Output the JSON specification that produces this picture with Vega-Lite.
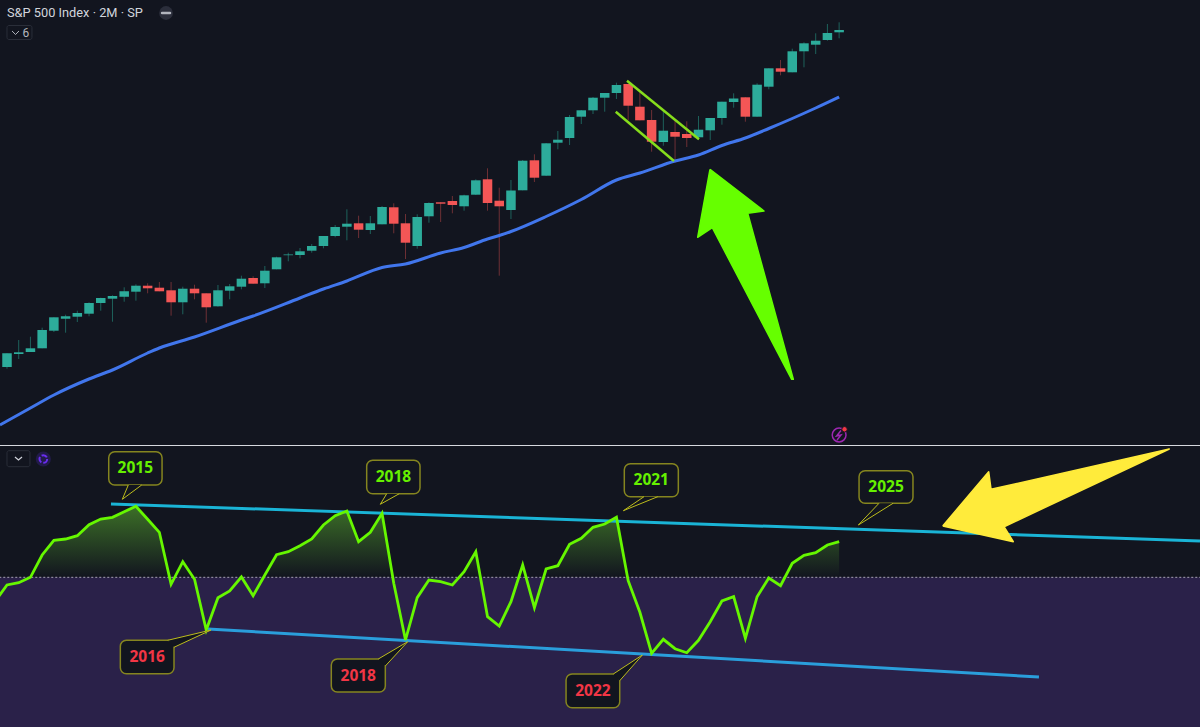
{
"$schema":"https://vega.github.io/schema/vega-lite/v6.json",
"background":"#12151f",
"padding":0,
"spacing":0,
"bounds":"flush",
"config":{"view":{"stroke":null},"concat":{"spacing":0}},
"datasets":{
"candles":[
{"t":0,"open":78,"high":91.7,"low":76.3,"close":91.7},
{"t":1,"open":91,"high":105,"low":86,"close":92.7},
{"t":2,"open":93,"high":108.3,"low":93,"close":96.7},
{"t":3,"open":96.7,"high":117.3,"low":96.7,"close":115},
{"t":4,"open":114.3,"high":127.7,"low":113,"close":127.7},
{"t":5,"open":126.3,"high":130.3,"low":112.3,"close":128.7},
{"t":6,"open":128.3,"high":134.3,"low":123,"close":132},
{"t":7,"open":131.3,"high":142.7,"low":128.7,"close":142},
{"t":8,"open":142,"high":147.3,"low":134.3,"close":147},
{"t":9,"open":146.3,"high":149.7,"low":123.3,"close":149},
{"t":10,"open":148.3,"high":157.7,"low":143.3,"close":153.7},
{"t":11,"open":153.3,"high":160.7,"low":144.3,"close":159.3},
{"t":12,"open":159.3,"high":161.7,"low":151.7,"close":156.7},
{"t":13,"open":157.3,"high":163,"low":153.7,"close":153.7},
{"t":14,"open":154.7,"high":163,"low":129.3,"close":142.7},
{"t":15,"open":142.7,"high":158.3,"low":130.7,"close":156.3},
{"t":16,"open":156.3,"high":160.3,"low":145.7,"close":151.7},
{"t":17,"open":151.7,"high":151.7,"low":122.3,"close":137.7},
{"t":18,"open":138.7,"high":160,"low":138.3,"close":154.7},
{"t":19,"open":154.3,"high":161,"low":145.7,"close":158.7},
{"t":20,"open":158.3,"high":169.3,"low":155.7,"close":166.3},
{"t":21,"open":167,"high":168.7,"low":161.3,"close":161.3},
{"t":22,"open":161.7,"high":179,"low":157,"close":174.3},
{"t":23,"open":175.7,"high":188.3,"low":175.7,"close":187.7},
{"t":24,"open":189.8,"high":192.3,"low":183.7,"close":190.5},
{"t":25,"open":190,"high":197,"low":186.7,"close":193.7},
{"t":26,"open":194.3,"high":201,"low":192.3,"close":199},
{"t":27,"open":199,"high":209,"low":196.7,"close":209},
{"t":28,"open":209,"high":220,"low":207.7,"close":218},
{"t":29,"open":218.3,"high":235.7,"low":204.7,"close":221.3},
{"t":30,"open":221.7,"high":229.3,"low":207,"close":215.3},
{"t":31,"open":215,"high":229,"low":211,"close":221.7},
{"t":32,"open":220.7,"high":239,"low":220.7,"close":238},
{"t":33,"open":237.7,"high":241.7,"low":211.7,"close":221.3},
{"t":34,"open":221.7,"high":231,"low":186,"close":202.3},
{"t":35,"open":199,"high":230.7,"low":196.3,"close":228},
{"t":36,"open":228.7,"high":242.7,"low":222.3,"close":242},
{"t":37,"open":242.7,"high":242.7,"low":223,"close":241.3},
{"t":38,"open":244,"high":249,"low":231.7,"close":240},
{"t":39,"open":238.7,"high":250.3,"low":234.3,"close":249.7},
{"t":40,"open":250.3,"high":265.7,"low":250,"close":264.7},
{"t":41,"open":265.7,"high":276.7,"low":234.3,"close":242},
{"t":42,"open":244.3,"high":257.3,"low":169.3,"close":238.7},
{"t":43,"open":235,"high":265,"low":226,"close":254.5},
{"t":44,"open":254.7,"high":285,"low":254.7,"close":284.3},
{"t":45,"open":284.7,"high":290.7,"low":263,"close":267.3},
{"t":46,"open":269.3,"high":302,"low":269,"close":301.7},
{"t":47,"open":302.3,"high":314,"low":295.7,"close":305.3},
{"t":48,"open":307,"high":330,"low":300,"close":328},
{"t":49,"open":328.3,"high":335,"low":321,"close":334.7},
{"t":50,"open":334.7,"high":348,"low":331,"close":347.3},
{"t":51,"open":347.3,"high":352,"low":333.3,"close":352},
{"t":52,"open":352,"high":362.3,"low":346,"close":360},
{"t":53,"open":361,"high":361,"low":325,"close":339.3},
{"t":54,"open":338.3,"high":353.3,"low":324.7,"close":324.7},
{"t":55,"open":325,"high":335,"low":293.3,"close":303.3},
{"t":56,"open":303,"high":334.3,"low":299.3,"close":314.3},
{"t":57,"open":313,"high":324,"low":282.3,"close":308.3},
{"t":58,"open":311,"high":323.7,"low":298,"close":307},
{"t":59,"open":307.7,"high":329,"low":305,"close":315.3},
{"t":60,"open":314.7,"high":327,"low":305,"close":327},
{"t":61,"open":327,"high":343.3,"low":320.3,"close":343.3},
{"t":62,"open":343,"high":351.7,"low":337.3,"close":346.5},
{"t":63,"open":347.7,"high":347.7,"low":323.3,"close":328.3},
{"t":64,"open":328.3,"high":361.7,"low":328.3,"close":360.3},
{"t":65,"open":358.3,"high":376.7,"low":355.7,"close":376.7},
{"t":66,"open":376.7,"high":385,"low":369.7,"close":373.3},
{"t":67,"open":372.7,"high":396.3,"low":372.7,"close":393.7},
{"t":68,"open":393.7,"high":402.7,"low":377.7,"close":401.7},
{"t":69,"open":400.3,"high":411.7,"low":391,"close":404.3},
{"t":70,"open":405,"high":421,"low":404.3,"close":412},
{"t":71,"open":412.7,"high":422.7,"low":406.7,"close":415}
],
"ma":[
{"t":-0.6,"v":20},{"t":2,"v":37},{"t":4,"v":50},{"t":7,"v":66},{"t":9,"v":75},{"t":12,"v":92},{"t":13,"v":97},{"t":16,"v":108},{"t":20,"v":125},{"t":21,"v":129},{"t":25,"v":147},{"t":27,"v":156},{"t":29,"v":164},{"t":32,"v":177.5},{"t":34,"v":181},{"t":37,"v":192},{"t":39,"v":197.5},{"t":41,"v":206},{"t":42,"v":209.5},{"t":43,"v":213.5},{"t":46,"v":228.5},{"t":49,"v":245.5},{"t":52,"v":265},{"t":54,"v":272},{"t":57,"v":284},{"t":59,"v":290},{"t":61,"v":299.5},{"t":63,"v":307},{"t":65,"v":316.5},{"t":67,"v":326.5},{"t":69,"v":337},{"t":71,"v":348}
],
"flag":[
{"id":"upper","t":52.9,"v":364.3},{"id":"upper","t":59.04,"v":305.7},
{"id":"lower","t":51.94,"v":333.3},{"id":"lower","t":56.91,"v":284}
],
"greenArrow":[
{"seq":0,"t":59.98,"v":275.7},{"seq":1,"t":64.59,"v":234},{"seq":2,"t":63.2,"v":231.7},{"seq":3,"t":67.09,"v":65.7},{"seq":4,"t":66.95,"v":65.7},{"seq":5,"t":60.18,"v":217.3},{"seq":6,"t":58.93,"v":207.7},{"seq":7,"t":59.98,"v":275.7}
],
"topTitle":[{"t":0,"v":432,"label":"S&P 500 Index · 2M · SP"}],
"topCount":[{"t":1.62,"v":412.5,"label":"6"}],
"topBox":[{"t":0,"t2":2.13,"v":419.5,"v2":405.5}],
"topChevron":[{"seq":0,"t":0.43,"v":414},{"seq":1,"t":0.73,"v":410.5},{"seq":2,"t":1.02,"v":414}],
"minusDot":[{"t":13.57,"v":432}],
"minusBar":[{"t":13.23,"t2":13.91,"v":432}],
"osc":[
{"t":-1,"v":126},{"t":0,"v":142},{"t":1,"v":144.3},{"t":2,"v":149.7},{"t":3,"v":172},{"t":4,"v":186.7},{"t":5,"v":188},{"t":6,"v":191.3},{"t":7,"v":202.3},{"t":8,"v":208},{"t":9,"v":209.7},{"t":10,"v":215.3},{"t":11,"v":220.7},{"t":12,"v":207.7},{"t":13,"v":194.7},{"t":14,"v":142.7},{"t":15,"v":165.3},{"t":16,"v":147.7},{"t":17,"v":97},{"t":18,"v":129.3},{"t":19,"v":136},{"t":20,"v":150},{"t":21,"v":131.3},{"t":22,"v":152},{"t":23,"v":172.3},{"t":24,"v":175.3},{"t":25,"v":181.3},{"t":26,"v":188},{"t":27,"v":202},{"t":28,"v":211.3},{"t":29,"v":216},{"t":30,"v":185.3},{"t":31,"v":194.7},{"t":32,"v":213.7},{"t":33,"v":143.7},{"t":34,"v":87},{"t":35,"v":129.3},{"t":36,"v":147},{"t":37,"v":145.3},{"t":38,"v":142},{"t":39,"v":155.3},{"t":40,"v":175.3},{"t":41,"v":110.3},{"t":42,"v":101},{"t":43,"v":125.3},{"t":44,"v":162},{"t":45,"v":119.3},{"t":46,"v":158},{"t":47,"v":161.3},{"t":48,"v":182.7},{"t":49,"v":188.7},{"t":50,"v":199.7},{"t":51,"v":203},{"t":52,"v":209.7},{"t":53,"v":146.3},{"t":54,"v":114.7},{"t":55,"v":73.7},{"t":56,"v":87.7},{"t":57,"v":78.3},{"t":58,"v":74.3},{"t":59,"v":86.7},{"t":60,"v":105.3},{"t":61,"v":126},{"t":62,"v":130.3},{"t":63,"v":88.7},{"t":64,"v":130.3},{"t":65,"v":149},{"t":66,"v":141.3},{"t":67,"v":163.7},{"t":68,"v":171.7},{"t":69,"v":174.3},{"t":70,"v":182},{"t":71,"v":185.3}
],
"lowerZone":[{"t":-1,"t2":102,"v":149.7,"v2":0}],
"midline":[{"t":-1,"t2":102,"v":149.7}],
"separator":[{"t":-1,"t2":102,"v":281.5}],
"upperTrend":[{"t":8.87,"v":223},{"t":101.79,"v":186}],
"lowerTrend":[{"t":17.15,"v":98},{"t":88.05,"v":50}],
"yellowArrow":[
{"seq":0,"t":79.84,"v":201},{"seq":1,"t":83.76,"v":255.3},{"seq":2,"t":83.96,"v":237.7},{"seq":3,"t":99.17,"v":278},{"seq":4,"t":85.07,"v":200.3},{"seq":5,"t":85.86,"v":185.3},{"seq":6,"t":79.84,"v":201}
],
"boxes":[
{"t":8.68,"t2":13.23,"v":275.3,"v2":242},
{"t":9.67,"t2":14.25,"v":86.7,"v2":53.3},
{"t":30.69,"t2":35.24,"v":266.7,"v2":233.3},
{"t":27.67,"t2":32.28,"v":68,"v2":35},
{"t":52.67,"t2":57.28,"v":263.3,"v2":230.3},
{"t":47.7,"t2":52.28,"v":53,"v2":19.3},
{"t":72.7,"t2":77.3,"v":256.3,"v2":223.7}
],
"tails":[
{"id":"a","seq":0,"t":10.35,"v":242},{"id":"a","seq":1,"t":9.84,"v":227.7},{"id":"a","seq":2,"t":11.49,"v":242},
{"id":"b","seq":0,"t":13.71,"v":86.7},{"id":"b","seq":1,"t":17.41,"v":97},{"id":"b","seq":2,"t":14.25,"v":79.7},
{"id":"c","seq":0,"t":32.4,"v":233.3},{"id":"c","seq":1,"t":31.85,"v":222.7},{"id":"c","seq":2,"t":33.47,"v":233.3},
{"id":"d","seq":0,"t":31.68,"v":68},{"id":"d","seq":1,"t":34.19,"v":85.3},{"id":"d","seq":2,"t":32.28,"v":61},
{"id":"e","seq":0,"t":54.35,"v":230.3},{"id":"e","seq":1,"t":52.59,"v":216.3},{"id":"e","seq":2,"t":55.52,"v":230.3},
{"id":"f","seq":0,"t":51.73,"v":53},{"id":"f","seq":1,"t":54.21,"v":72},{"id":"f","seq":2,"t":52.28,"v":46.3},
{"id":"g","seq":0,"t":74.4,"v":223.7},{"id":"g","seq":1,"t":72.64,"v":202},{"id":"g","seq":2,"t":75.6,"v":223.7}
],
"labels":[
{"t":10.95,"v":258.7,"label":"2015","kind":"high"},
{"t":11.96,"v":70,"label":"2016","kind":"low"},
{"t":32.97,"v":250,"label":"2018","kind":"high"},
{"t":29.97,"v":51.5,"label":"2018","kind":"low"},
{"t":54.97,"v":246.8,"label":"2021","kind":"high"},
{"t":49.99,"v":36.2,"label":"2022","kind":"low"},
{"t":75,"v":240,"label":"2025","kind":"high"}
],
"chevBox":[{"t":0,"t2":1.96,"v":276.3,"v2":260.3}],
"chev":[{"seq":0,"t":0.68,"v":270},{"seq":1,"t":0.98,"v":267},{"seq":2,"t":1.28,"v":270}],
"refresh":[{"t":3.1,"v":268}],
"bolt":[{"seq":0,"t":71.16,"v":14.5},{"seq":1,"t":70.78,"v":9},{"seq":2,"t":71.16,"v":10},{"seq":3,"t":70.82,"v":5}],
"boltRing":[{"t":71,"v":10}],
"boltDot":[{"t":71.46,"v":15.7}]
},
"vconcat":[
{
"width":1200,"height":445,
"encoding":{
"x":{"field":"t","type":"quantitative","axis":null,"scale":{"domain":[-0.597,101.79],"nice":false,"zero":false,"padding":0}},
"y":{"field":"v","type":"quantitative","axis":null,"scale":{"domain":[0,445],"nice":false,"zero":false}}
},
"layer":[
{"data":{"name":"candles"},"mark":{"type":"rule","strokeWidth":1},
"encoding":{
"y":{"field":"high","type":"quantitative","axis":null,"scale":{"domain":[0,445],"nice":false,"zero":false}},
"y2":{"field":"low"},
"color":{"condition":{"test":"datum.close>=datum.open","value":"#1e625c"},"value":"#6e3035"}}},
{"data":{"name":"candles"},"mark":{"type":"bar","size":9.5,"orient":"vertical"},
"encoding":{
"y":{"field":"open","type":"quantitative","axis":null,"scale":{"domain":[0,445],"nice":false,"zero":false}},
"y2":{"field":"close"},
"color":{"condition":{"test":"datum.close>=datum.open","value":"#2dac9b"},"value":"#f45656"}}},
{"data":{"name":"ma"},"mark":{"type":"line","color":"#4176ec","strokeWidth":3,"clip":true,"interpolate":"monotone"}},
{"data":{"name":"flag"},"mark":{"type":"line","color":"#86dd1c","strokeWidth":2.5},"encoding":{"detail":{"field":"id"}}},
{"data":{"name":"greenArrow"},"mark":{"type":"line","stroke":"#66ff00","fill":"#66ff00","strokeWidth":1.5,"strokeJoin":"round"},"encoding":{"order":{"field":"seq"}}},
{"data":{"name":"topTitle"},"mark":{"type":"text","align":"left","baseline":"middle","font":"Roboto","fontSize":12.8,"color":"#d1d4dc"},"encoding":{"text":{"field":"label"}}},
{"data":{"name":"topBox"},"mark":{"type":"rect","fillOpacity":0,"stroke":"#2a2e39","cornerRadius":2},"encoding":{"x2":{"field":"t2"},"y2":{"field":"v2"}}},
{"data":{"name":"topChevron"},"mark":{"type":"line","color":"#b2b5be","strokeWidth":1},"encoding":{"order":{"field":"seq"}}},
{"data":{"name":"topCount"},"mark":{"type":"text","align":"center","baseline":"middle","font":"Roboto","fontSize":12,"color":"#b2b5be"},"encoding":{"text":{"field":"label"}}},
{"data":{"name":"minusDot"},"mark":{"type":"circle","size":190,"color":"#2b2e3b","opacity":1}},
{"data":{"name":"minusBar"},"mark":{"type":"rule","color":"#b2b5be","strokeWidth":2.5,"strokeCap":"round"},"encoding":{"x2":{"field":"t2"}}},
{"data":{"name":"boltRing"},"mark":{"type":"point","shape":"circle","size":190,"filled":false,"color":"#9c27b0","strokeWidth":1.5,"opacity":1}},
{"data":{"name":"bolt"},"mark":{"type":"line","color":"#9c27b0","strokeWidth":1.5},"encoding":{"order":{"field":"seq"}}},
{"data":{"name":"boltDot"},"mark":{"type":"circle","size":30,"color":"#f23645","opacity":1,"stroke":"#12151f","strokeWidth":1}}
]
},
{
"width":1200,"height":282,
"encoding":{
"x":{"field":"t","type":"quantitative","axis":null,"scale":{"domain":[-0.597,101.79],"nice":false,"zero":false}},
"y":{"field":"v","type":"quantitative","axis":null,"scale":{"domain":[0,282],"nice":false,"zero":false}}
},
"layer":[
{"data":{"name":"osc"},"mark":{"type":"area","clip":true,"color":{"x1":0,"y1":0,"x2":0,"y2":1,"gradient":"linear","stops":[{"offset":0,"color":"#3c7027"},{"offset":0.483,"color":"#12151f"},{"offset":1,"color":"#12151f"}]}},"encoding":{"y2":{"datum":149.7}}},
{"data":{"name":"lowerZone"},"mark":{"type":"rect","color":"#2a2149","clip":true},"encoding":{"x2":{"field":"t2"},"y2":{"field":"v2"}}},
{"data":{"name":"midline"},"mark":{"type":"rule","color":"#a8a5b5","strokeWidth":1,"strokeDash":[2,2],"clip":true},"encoding":{"x2":{"field":"t2"}}},
{"data":{"name":"separator"},"mark":{"type":"rule","color":"#d6d8de","strokeWidth":1,"clip":true},"encoding":{"x2":{"field":"t2"}}},
{"data":{"name":"upperTrend"},"mark":{"type":"line","color":"#1ab4d6","strokeWidth":3,"clip":true}},
{"data":{"name":"lowerTrend"},"mark":{"type":"line","color":"#2a9edb","strokeWidth":3,"clip":true}},
{"data":{"name":"osc"},"mark":{"type":"line","color":"#66f700","strokeWidth":2.8,"clip":true}},
{"data":{"name":"yellowArrow"},"mark":{"type":"line","stroke":"#ffeb3b","fill":"#ffeb3b","strokeWidth":1.5,"strokeJoin":"round"},"encoding":{"order":{"field":"seq"}}},
{"data":{"name":"boxes"},"mark":{"type":"rect","fill":"#12151f","stroke":"#85851f","strokeWidth":1.5,"cornerRadius":6},"encoding":{"x2":{"field":"t2"},"y2":{"field":"v2"}}},
{"data":{"name":"tails"},"mark":{"type":"line","stroke":"#bdbd1c","fill":"#12151f","strokeWidth":1},"encoding":{"detail":{"field":"id"},"order":{"field":"seq"}}},
{"data":{"name":"labels"},"mark":{"type":"text","align":"center","baseline":"middle","font":"Noto Sans","fontWeight":"bold","fontSize":15.5},"encoding":{"text":{"field":"label"},"color":{"field":"kind","type":"nominal","legend":null,"scale":{"domain":["high","low"],"range":["#66f000","#f23645"]}}}},
{"data":{"name":"chevBox"},"mark":{"type":"rect","fillOpacity":0,"stroke":"#2a2e39","cornerRadius":2},"encoding":{"x2":{"field":"t2"},"y2":{"field":"v2"}}},
{"data":{"name":"chev"},"mark":{"type":"line","color":"#d1d4dc","strokeWidth":1.2},"encoding":{"order":{"field":"seq"}}},
{"data":{"name":"refresh"},"mark":{"type":"circle","size":230,"color":"#221b4a","opacity":1}},
{"data":{"name":"refresh"},"mark":{"type":"point","shape":"circle","size":60,"filled":false,"color":"#6a2df0","strokeWidth":2,"strokeDash":[6,2],"opacity":1}}
]
}
]
}
